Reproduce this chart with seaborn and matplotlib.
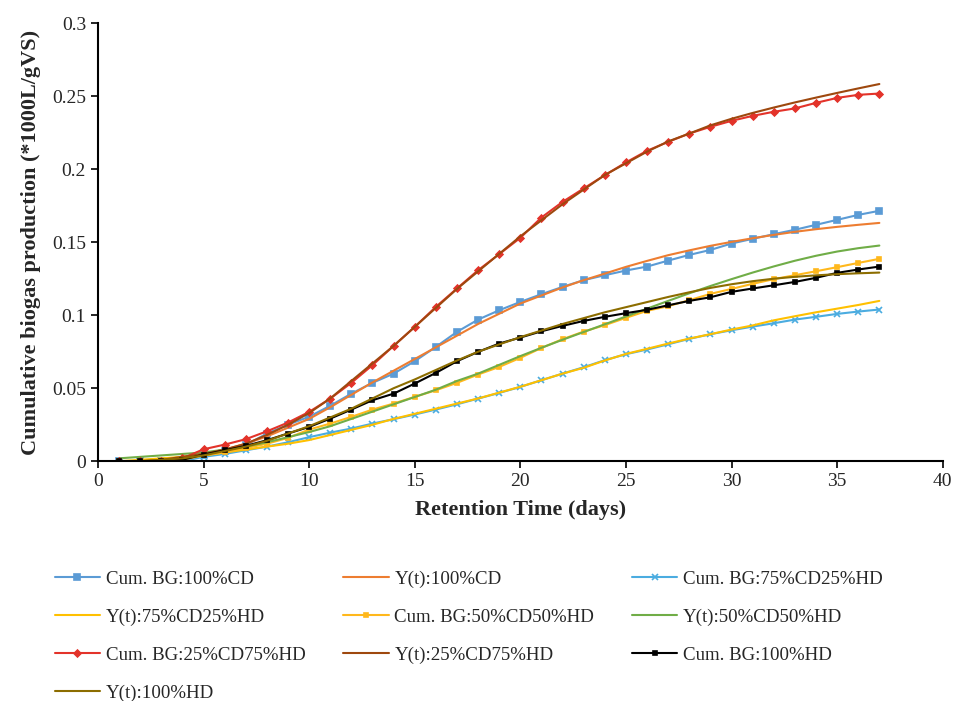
import numpy as np
import pandas as pd
import matplotlib
matplotlib.use("Agg")
import matplotlib.pyplot as plt
import seaborn as sns

# ==========================================
# DADOS
# ==========================================
dias = list(range(1, 38))

bg_100cd = [0.000, 0.000, 0.000, 0.001, 0.004, 0.007, 0.011, 0.019, 0.025, 0.0305,
            0.038, 0.0463, 0.0537, 0.060, 0.0685, 0.0783, 0.0886, 0.097, 0.1034, 0.1091,
            0.1144, 0.1194, 0.124, 0.1274, 0.1306, 0.1333, 0.1374, 0.1413, 0.1447, 0.1491,
            0.1523, 0.1555, 0.1585, 0.1619, 0.1653, 0.1687, 0.1715]
y_100cd = [0.000, 0.000, 0.001, 0.003, 0.005, 0.008, 0.012, 0.017, 0.023, 0.029,
           0.037, 0.0455, 0.054, 0.062, 0.070, 0.078, 0.086, 0.094, 0.101, 0.108,
           0.1135, 0.119, 0.124, 0.1285, 0.1331, 0.1372, 0.1411, 0.1444, 0.1475, 0.1502,
           0.1527, 0.155, 0.1571, 0.1589, 0.1605, 0.1619, 0.1632]

bg_75cd = [0.000, 0.000, 0.000, 0.000, 0.003, 0.005, 0.0075, 0.010, 0.013, 0.0165,
           0.0196, 0.0224, 0.0258, 0.0288, 0.032, 0.0354, 0.039, 0.0429, 0.0468, 0.0509,
           0.0555, 0.060, 0.0644, 0.0692, 0.0733, 0.0765, 0.0801, 0.0838, 0.087, 0.0897,
           0.0922, 0.0945, 0.097, 0.0989, 0.1009, 0.1025, 0.1039]
y_75cd = [0.000, 0.001, 0.002, 0.003, 0.004, 0.006, 0.008, 0.010, 0.012, 0.0145,
          0.018, 0.0215, 0.025, 0.029, 0.0325, 0.036, 0.0395, 0.043, 0.047, 0.051,
          0.0555, 0.060, 0.064, 0.069, 0.0735, 0.077, 0.0806, 0.084, 0.087, 0.0902,
          0.093, 0.0965, 0.0993, 0.102, 0.1045, 0.107, 0.1098]

bg_50cd = [0.000, 0.000, 0.000, 0.001, 0.004, 0.006, 0.009, 0.012, 0.016, 0.0217,
           0.0258, 0.0304, 0.0354, 0.0395, 0.0441, 0.0486, 0.0537, 0.0594, 0.0646, 0.0708,
           0.0776, 0.0836, 0.0888, 0.0932, 0.0982, 0.103, 0.1062, 0.1103, 0.1146, 0.118,
           0.1215, 0.1247, 0.1274, 0.1301, 0.1329, 0.1358, 0.1386]
y_50cd = [0.002, 0.003, 0.004, 0.005, 0.006, 0.008, 0.010, 0.013, 0.0165, 0.020,
          0.024, 0.029, 0.034, 0.039, 0.044, 0.049, 0.055, 0.060, 0.066, 0.072,
          0.0777, 0.0832, 0.0885, 0.0938, 0.0991, 0.1045, 0.1098, 0.115, 0.120, 0.1247,
          0.1292, 0.1334, 0.1373, 0.1407, 0.1436, 0.1459, 0.1477]

bg_25cd = [0.000, 0.000, 0.000, 0.002, 0.0082, 0.0114, 0.0151, 0.0205, 0.0265, 0.0338,
           0.0429, 0.0537, 0.0658, 0.079, 0.092, 0.1057, 0.1183, 0.1308, 0.1418, 0.153,
           0.1669, 0.1776, 0.1868, 0.1959, 0.2046, 0.2126, 0.2187, 0.2244, 0.229, 0.2331,
           0.2365, 0.2393, 0.2416, 0.2454, 0.2488, 0.2509, 0.2518]
y_25cd = [0.000, 0.000, 0.001, 0.003, 0.005, 0.008, 0.012, 0.018, 0.025, 0.033,
          0.043, 0.055, 0.067, 0.079, 0.092, 0.105, 0.118, 0.130, 0.142, 0.154,
          0.165, 0.176, 0.186, 0.196, 0.204, 0.212, 0.219, 0.2244, 0.230, 0.2345,
          0.2385, 0.2422, 0.2457, 0.249, 0.2522, 0.2553, 0.2583]

bg_100hd = [0.000, 0.000, 0.000, 0.001, 0.0046, 0.0075, 0.0105, 0.0144, 0.019, 0.0235,
            0.0292, 0.0354, 0.0418, 0.0463, 0.0532, 0.0605, 0.0685, 0.0749, 0.0806, 0.0847,
            0.089, 0.0927, 0.0961, 0.0989, 0.1014, 0.1037, 0.1068, 0.1098, 0.1123, 0.116,
            0.1183, 0.1205, 0.1228, 0.1256, 0.129, 0.1313, 0.1333]
y_100hd = [0.000, 0.000, 0.001, 0.002, 0.004, 0.007, 0.010, 0.014, 0.019, 0.024,
           0.030, 0.036, 0.043, 0.050, 0.056, 0.0625, 0.069, 0.075, 0.080, 0.085,
           0.0895, 0.094, 0.098, 0.102, 0.1055, 0.109, 0.1125, 0.1157, 0.1187, 0.1212,
           0.1233, 0.125, 0.1263, 0.1273, 0.1281, 0.1287, 0.1292]

rotulos = ["Cum. BG:100%CD", "Y(t):100%CD", "Cum. BG:75%CD25%HD", "Y(t):75%CD25%HD",
           "Cum. BG:50%CD50%HD", "Y(t):50%CD50%HD", "Cum. BG:25%CD75%HD", "Y(t):25%CD75%HD",
           "Cum. BG:100%HD", "Y(t):100%HD"]
series = [bg_100cd, y_100cd, bg_75cd, y_75cd, bg_50cd, y_50cd, bg_25cd, y_25cd, bg_100hd, y_100hd]

# estilo de cada série: (cor, marcador, tamanho)
estilos = [("#5B9BD5", "s", 4.5), ("#ED7D31", None, 0),
           ("#4BACE0", "x", 4), ("#FFC000", None, 0),
           ("#FFB81C", "s", 3.2), ("#70AD47", None, 0),
           ("#E3332A", "D", 3.5), ("#9E480E", None, 0),
           ("#000000", "s", 3.5), ("#8C6D00", None, 0)]

# ==========================================
# GRÁFICO
# ==========================================
sns.set_style("ticks")
plt.rcParams['font.family'] = ['Liberation Serif', 'DejaVu Serif']

fig = plt.figure(figsize=(9.6, 7.01), dpi=100)
ax = fig.add_axes([0.102, 0.342, 0.88, 0.625])

for nome, vals, (cor, mk, ms) in zip(rotulos, series, estilos):
    kws = dict(color=cor, linewidth=1.5, label=nome)
    if mk:
        kws.update(marker=mk, markersize=ms, markeredgecolor=cor, markerfacecolor=cor,
                   markeredgewidth=1.2)
    sns.lineplot(x=dias, y=vals, ax=ax, **kws)

ax.set_xlim(0, 40)
ax.set_ylim(0, 0.3)
ax.set_xticks(range(0, 41, 5))
ax.set_yticks([0, 0.05, 0.1, 0.15, 0.2, 0.25, 0.3])
ax.set_yticklabels(["0", "0.05", "0.1", "0.15", "0.2", "0.25", "0.3"])
ax.tick_params(labelsize=14, length=5, width=1.2, color="black")
for s in ["top", "right"]:
    ax.spines[s].set_visible(False)
for s in ["left", "bottom"]:
    ax.spines[s].set_color("black")
    ax.spines[s].set_linewidth(1.5)
ax.set_xlabel("Retention Time (days)", fontsize=16, fontweight="bold", labelpad=7)
ax.set_ylabel("Cumulative biogas production (*1000L/gVS)", fontsize=16, fontweight="bold", labelpad=8)

# legenda em 3 colunas, preenchida linha a linha
handles, labels = ax.get_legend_handles_labels()
ax.get_legend().remove()
ordem = [0, 3, 6, 9, 1, 4, 7, 2, 5, 8]
fig.legend([handles[i] for i in ordem], [labels[i] for i in ordem],
           loc="upper left", bbox_to_anchor=(0.057, 0.186), ncol=3, frameon=False,
           fontsize=13.6, handlelength=2.4, handletextpad=0.3, columnspacing=2.0,
           labelspacing=1.1, borderpad=0, borderaxespad=0)

plt.savefig("out.png", dpi=100)
